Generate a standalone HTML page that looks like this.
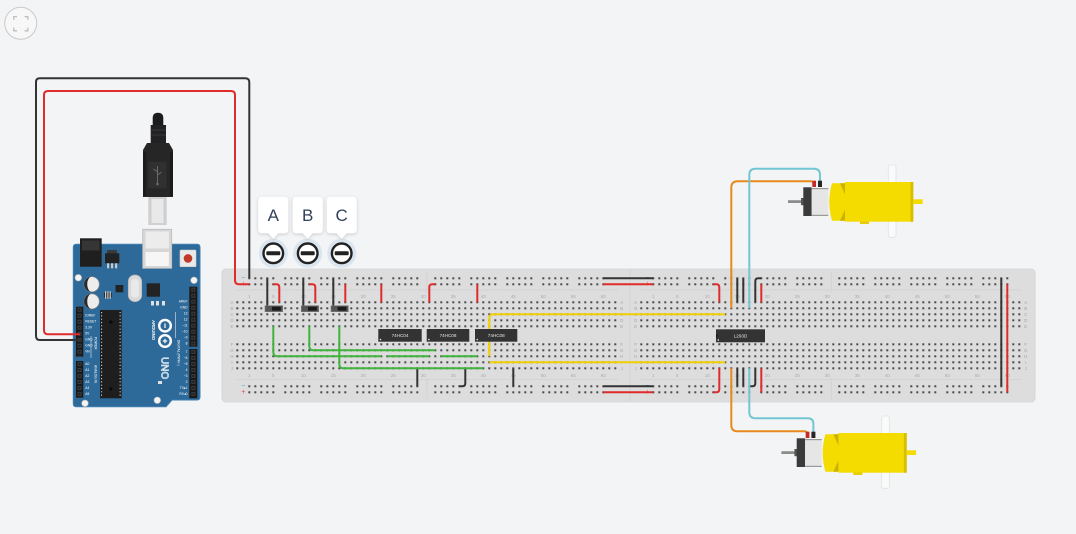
<!DOCTYPE html>
<html><head><meta charset="utf-8">
<style>
html,body{margin:0;padding:0;background:#f3f4f6;}
svg{display:block;}
text{font-family:"Liberation Sans",sans-serif;}
</style></head><body>
<svg width="1076" height="534" viewBox="0 0 1076 534" xmlns="http://www.w3.org/2000/svg">
<defs>
<pattern id="md" width="6" height="6" patternUnits="userSpaceOnUse"><rect x="2" y="2" width="2" height="2" fill="#4a4a4a"/></pattern>
<pattern id="rd" width="36" height="6" patternUnits="userSpaceOnUse">
<rect x="2" y="2" width="2" height="2" fill="#4a4a4a"/><rect x="8" y="2" width="2" height="2" fill="#4a4a4a"/><rect x="14" y="2" width="2" height="2" fill="#4a4a4a"/><rect x="20" y="2" width="2" height="2" fill="#4a4a4a"/><rect x="26" y="2" width="2" height="2" fill="#4a4a4a"/>
</pattern>
<pattern id="hp" width="6" height="6" patternUnits="userSpaceOnUse"><rect x="1" y="1" width="4" height="4" fill="#3a3a3a"/><rect x="2.2" y="2.2" width="1.6" height="1.6" fill="#111"/></pattern>
<filter id="sh" x="-30%" y="-30%" width="160%" height="160%"><feDropShadow dx="0" dy="1" stdDeviation="1.6" flood-color="#000" flood-opacity="0.18"/></filter>
</defs>

<!-- top-left icon -->
<circle cx="20.7" cy="23.3" r="16" fill="#f7f7f8" stroke="#c9c9c9" stroke-width="1"/>
<path d="M13.8,19.8 V16.6 H17 M24.6,16.6 H27.8 V19.8 M27.8,27.6 V30.8 H24.6 M17,30.8 H13.8 V27.6" fill="none" stroke="#bdbdbd" stroke-width="1.3"/>

<!-- ===== Breadboards ===== -->
<rect x="222" y="269" width="813" height="133" rx="4" fill="#dddddd" stroke="#d3d3d3" stroke-width="0.8"/>
<line x1="630" y1="270" x2="630" y2="401" stroke="#d2d2d2" stroke-width="0.8"/>
<!-- faint separators -->
<g stroke="#d0d0d0" stroke-width="0.7">
<line x1="236" y1="290" x2="618" y2="290"/><line x1="236" y1="379.5" x2="618" y2="379.5"/>
<line x1="640" y1="290" x2="1022" y2="290"/><line x1="640" y1="379.5" x2="1022" y2="379.5"/>
<line x1="427" y1="272" x2="427" y2="292"/><line x1="427" y1="378" x2="427" y2="399"/>
<line x1="831.3" y1="272" x2="831.3" y2="292"/><line x1="831.3" y1="378" x2="831.3" y2="399"/>
</g>
<!-- main dots -->
<g transform="translate(234.3,299.3)"><rect width="384" height="30" fill="url(#md)"/></g>
<g transform="translate(234.3,341.3)"><rect width="384" height="30" fill="url(#md)"/></g>
<g transform="translate(638.3,299.3)"><rect width="384" height="30" fill="url(#md)"/></g>
<g transform="translate(638.3,341.3)"><rect width="384" height="30" fill="url(#md)"/></g>
<!-- rail dots -->
<g transform="translate(246.3,275.3)"><rect width="180" height="12" fill="url(#rd)"/></g>
<g transform="translate(432.3,275.3)"><rect width="180" height="12" fill="url(#rd)"/></g>
<g transform="translate(246.3,383.3)"><rect width="180" height="12" fill="url(#rd)"/></g>
<g transform="translate(432.3,383.3)"><rect width="180" height="12" fill="url(#rd)"/></g>
<g transform="translate(650.3,275.3)"><rect width="180" height="12" fill="url(#rd)"/></g>
<g transform="translate(836.3,275.3)"><rect width="180" height="12" fill="url(#rd)"/></g>
<g transform="translate(650.3,383.3)"><rect width="180" height="12" fill="url(#rd)"/></g>
<g transform="translate(836.3,383.3)"><rect width="180" height="12" fill="url(#rd)"/></g>
<!-- rail signs -->
<g font-size="7" text-anchor="middle" dominant-baseline="central">
<text x="243.3" y="278" fill="#5b9bd5">−</text><text x="243.3" y="284.6" fill="#e34848">+</text>
<text x="243.3" y="386" fill="#5b9bd5">−</text><text x="243.3" y="392.6" fill="#e34848">+</text>
<text x="647.3" y="278" fill="#5b9bd5">−</text><text x="647.3" y="284.6" fill="#e34848">+</text>
<text x="647.3" y="386" fill="#5b9bd5">−</text><text x="647.3" y="392.6" fill="#e34848">+</text>
</g>
<!-- column numbers -->
<g font-size="4.6" fill="#ababab" text-anchor="middle">
<text x="249.3" y="298">1</text><text x="273.3" y="298">5</text><text x="303.3" y="298">10</text><text x="333.3" y="298">15</text><text x="363.3" y="298">20</text><text x="393.3" y="298">25</text><text x="423.3" y="298">30</text><text x="453.3" y="298">35</text><text x="483.3" y="298">40</text><text x="513.3" y="298">45</text><text x="543.3" y="298">50</text><text x="573.3" y="298">55</text><text x="603.3" y="298">60</text>
<text x="249.3" y="377">1</text><text x="273.3" y="377">5</text><text x="303.3" y="377">10</text><text x="333.3" y="377">15</text><text x="363.3" y="377">20</text><text x="393.3" y="377">25</text><text x="423.3" y="377">30</text><text x="453.3" y="377">35</text><text x="483.3" y="377">40</text><text x="513.3" y="377">45</text><text x="543.3" y="377">50</text><text x="573.3" y="377">55</text><text x="603.3" y="377">60</text>
<text x="653.3" y="298">1</text><text x="677.3" y="298">5</text><text x="707.3" y="298">10</text><text x="737.3" y="298">15</text><text x="767.3" y="298">20</text><text x="797.3" y="298">25</text><text x="827.3" y="298">30</text><text x="857.3" y="298">35</text><text x="887.3" y="298">40</text><text x="917.3" y="298">45</text><text x="947.3" y="298">50</text><text x="977.3" y="298">55</text><text x="1007.3" y="298">60</text>
<text x="653.3" y="377">1</text><text x="677.3" y="377">5</text><text x="707.3" y="377">10</text><text x="737.3" y="377">15</text><text x="767.3" y="377">20</text><text x="797.3" y="377">25</text><text x="827.3" y="377">30</text><text x="857.3" y="377">35</text><text x="887.3" y="377">40</text><text x="917.3" y="377">45</text><text x="947.3" y="377">50</text><text x="977.3" y="377">55</text><text x="1007.3" y="377">60</text>
</g>
<!-- row letters -->
<g font-size="4.4" fill="#a5a5a5" text-anchor="middle" dominant-baseline="central">
<text x="232" y="302.3">A</text><text x="232" y="308.3">B</text><text x="232" y="314.3">C</text><text x="232" y="320.3">D</text><text x="232" y="326.3">E</text><text x="232" y="344.3">F</text><text x="232" y="350.3">G</text><text x="232" y="356.3">H</text><text x="232" y="362.3">I</text><text x="232" y="368.3">J</text>
<text x="621.7" y="302.3">A</text><text x="621.7" y="308.3">B</text><text x="621.7" y="314.3">C</text><text x="621.7" y="320.3">D</text><text x="621.7" y="326.3">E</text><text x="621.7" y="344.3">F</text><text x="621.7" y="350.3">G</text><text x="621.7" y="356.3">H</text><text x="621.7" y="362.3">I</text><text x="621.7" y="368.3">J</text>
<text x="635.7" y="302.3">A</text><text x="635.7" y="308.3">B</text><text x="635.7" y="314.3">C</text><text x="635.7" y="320.3">D</text><text x="635.7" y="326.3">E</text><text x="635.7" y="344.3">F</text><text x="635.7" y="350.3">G</text><text x="635.7" y="356.3">H</text><text x="635.7" y="362.3">I</text><text x="635.7" y="368.3">J</text>
<text x="1025.7" y="302.3">A</text><text x="1025.7" y="308.3">B</text><text x="1025.7" y="314.3">C</text><text x="1025.7" y="320.3">D</text><text x="1025.7" y="326.3">E</text><text x="1025.7" y="344.3">F</text><text x="1025.7" y="350.3">G</text><text x="1025.7" y="356.3">H</text><text x="1025.7" y="362.3">I</text><text x="1025.7" y="368.3">J</text>
</g>

<!-- ===== Arduino ===== -->
<g>
<path d="M76.3,244.3 H197 Q200,244.3 200,247.3 V397 Q200,400 197,400 H172 L166,406.7 H76.3 Q73.3,406.7 73.3,403.7 V247.3 Q73.3,244.3 76.3,244.3Z" fill="#2e6a99" stroke="#3f7fb3" stroke-width="1"/>
<rect x="80" y="238.3" width="21.7" height="28.4" fill="#1f1f1f"/>
<rect x="82" y="240.5" width="17.5" height="10" fill="#353535"/>
<rect x="107" y="250" width="10" height="4" fill="#3a3a3a"/>
<rect x="105" y="253.3" width="14.3" height="10" fill="#222"/>
<rect x="107" y="263.3" width="2.2" height="5" fill="#c9c9c9"/><rect x="111" y="263.3" width="2.2" height="5" fill="#c9c9c9"/><rect x="115" y="263.3" width="2.2" height="5" fill="#c9c9c9"/>
<rect x="142.7" y="229.3" width="29" height="39" fill="#d6d6d6" stroke="#bdbdbd" stroke-width="0.8"/>
<rect x="145.5" y="231.5" width="23.4" height="17" fill="#ececec"/>
<rect x="145.5" y="252" width="23.4" height="14" fill="#f6f6f6"/>
<rect x="180" y="250" width="16" height="16.7" rx="1" fill="#e9e9e9" stroke="#cfcfcf" stroke-width="0.6"/>
<circle cx="188" cy="258.4" r="4.3" fill="#c0392b"/>
<g fill="#f4f4f4" stroke="#b8b8b8" stroke-width="0.6">
<circle cx="78.3" cy="277.7" r="3.3"/><circle cx="194" cy="280.3" r="3.3"/><circle cx="85" cy="403.3" r="3.3"/><circle cx="157.3" cy="400.3" r="3.3"/>
</g>
<!-- capacitors -->
<circle cx="91.7" cy="284.3" r="7.6" fill="#ededed" stroke="#8a8a8a" stroke-width="0.7"/>
<path d="M91.7,276.7 A7.6,7.6 0 0 0 91.7,291.9 A4.5,7.6 0 0 1 91.7,276.7Z" fill="#2a2a2a"/>
<circle cx="91.7" cy="301.4" r="7.6" fill="#ededed" stroke="#8a8a8a" stroke-width="0.7"/>
<path d="M91.7,293.8 A7.6,7.6 0 0 0 91.7,309 A4.5,7.6 0 0 1 91.7,293.8Z" fill="#2a2a2a"/>
<!-- crystal -->
<rect x="128.3" y="275" width="13.4" height="26.7" rx="6.5" fill="#d9d9d9" stroke="#b5b5b5" stroke-width="0.7"/>
<rect x="131" y="279" width="8" height="18.7" rx="4" fill="#e9e9e9"/>
<rect x="146.7" y="283.3" width="13.3" height="13.4" fill="#232323"/>
<rect x="115.5" y="285" width="7.8" height="7.3" fill="#232323"/>
<rect x="104" y="292.5" width="7.7" height="5" fill="#2a2a2a"/>
<rect x="105" y="291.3" width="1.2" height="7.4" fill="#ccc"/><rect x="107.3" y="291.3" width="1.2" height="7.4" fill="#ccc"/><rect x="109.6" y="291.3" width="1.2" height="7.4" fill="#ccc"/>
<!-- LEDs -->
<rect x="151" y="301" width="3" height="4.5" fill="#e0e0e0"/><rect x="156" y="301" width="3" height="4.5" fill="#e0e0e0"/><rect x="162" y="301" width="3" height="4.5" fill="#e0e0e0"/>
<rect x="158" y="381" width="4" height="3" fill="#e0e0e0"/>
<!-- ATmega -->
<rect x="100" y="310" width="21.7" height="88.3" fill="#1e1e1e"/>
<line x1="101.6" y1="312" x2="101.6" y2="397" stroke="#d8d8d8" stroke-width="1" stroke-dasharray="1.2 2.1"/>
<line x1="120.1" y1="312" x2="120.1" y2="397" stroke="#d8d8d8" stroke-width="1" stroke-dasharray="1.2 2.1"/>
<circle cx="110.8" cy="322" r="1.8" fill="#0c0c0c"/><circle cx="110.8" cy="389" r="1.8" fill="#0c0c0c"/>
<!-- headers -->
<g transform="translate(76,306.7)"><rect width="7.3" height="50" fill="#1a1a1a"/><g transform="translate(0.6,0)"><rect width="6" height="50" fill="url(#hp)"/></g></g>
<g transform="translate(76,361)"><rect width="7.3" height="36.7" fill="#1a1a1a"/><g transform="translate(0.6,0)"><rect width="6" height="36" fill="url(#hp)"/></g></g>
<g transform="translate(189.3,286.7)"><rect width="8" height="60" fill="#1a1a1a"/><g transform="translate(1,0)"><rect width="6" height="60" fill="url(#hp)"/></g></g>
<g transform="translate(189.3,349)"><rect width="8" height="49.3" fill="#1a1a1a"/><g transform="translate(1,0)"><rect width="6" height="48" fill="url(#hp)"/></g></g>
<!-- labels -->
<g font-size="3.3" fill="#ffffff" dominant-baseline="central">
<g text-anchor="end">
<text x="187.5" y="301.7">AREF</text><text x="187.5" y="307.7">GND</text><text x="187.5" y="313.7">13</text><text x="187.5" y="319.7">12</text><text x="187.5" y="325.7">~11</text><text x="187.5" y="331.7">~10</text><text x="187.5" y="337.7">~9</text><text x="187.5" y="343.7">8</text>
<text x="187.5" y="352">7</text><text x="187.5" y="358">~6</text><text x="187.5" y="364">~5</text><text x="187.5" y="370">4</text><text x="187.5" y="376">~3</text><text x="187.5" y="382">2</text><text x="187.5" y="388">TX▸1</text><text x="187.5" y="394">RX◂0</text>
</g>
<text x="85.3" y="315.7">IOREF</text><text x="85.3" y="321.7">RESET</text><text x="85.3" y="327.7">3.3V</text><text x="85.3" y="333.7">5V</text><text x="85.3" y="339.7">GND</text><text x="85.3" y="345.7">GND</text><text x="85.3" y="351.7">Vin</text>
<text x="85.3" y="364">A0</text><text x="85.3" y="370">A1</text><text x="85.3" y="376">A2</text><text x="85.3" y="382">A3</text><text x="85.3" y="388">A4</text><text x="85.3" y="394">A5</text>
<text transform="translate(95.5,337) rotate(90)">POWER</text>
<text transform="translate(95.5,365) rotate(90)">ANALOG IN</text>
<text transform="translate(178.5,340) rotate(90)">DIGITAL (PWM~)</text>
<text transform="translate(153.3,320) rotate(90)" font-size="4.3" font-weight="bold">ARDUINO</text>
</g>
<line x1="175.5" y1="312" x2="175.5" y2="338" stroke="#fff" stroke-width="0.5"/>
<line x1="91" y1="336" x2="91" y2="358" stroke="#fff" stroke-width="0.5"/>
<circle cx="165" cy="325.7" r="5.8" fill="none" stroke="#fff" stroke-width="2.4"/>
<circle cx="165" cy="341" r="5.8" fill="none" stroke="#fff" stroke-width="2.4"/>
<line x1="165" y1="323.5" x2="165" y2="328" stroke="#fff" stroke-width="1.2"/>
<line x1="162.8" y1="341" x2="167.2" y2="341" stroke="#fff" stroke-width="1.2"/><line x1="165" y1="338.8" x2="165" y2="343.2" stroke="#fff" stroke-width="1.2"/>
<text transform="translate(161.5,357) rotate(90)" font-size="10" fill="none" stroke="#fff" stroke-width="0.6">UNO</text>
</g>

<!-- USB cable -->
<path d="M152.7,126 V118 Q152.7,112.7 158,112.7 Q163.3,112.7 163.3,118 V126 Z" fill="#1c1c1c"/>
<rect x="150.7" y="125" width="15.3" height="18.3" fill="#222"/>
<line x1="150.7" y1="130" x2="166" y2="130" stroke="#383838" stroke-width="1"/>
<line x1="150.7" y1="135" x2="166" y2="135" stroke="#383838" stroke-width="1"/>
<path d="M147,143 H169 L173,150 V197 H143 V150 Z" fill="#262626"/>
<rect x="143" y="152" width="3" height="44" fill="#1b1b1b"/><rect x="170" y="152" width="3" height="44" fill="#1b1b1b"/>
<rect x="148.3" y="161.7" width="18.4" height="26.6" fill="#303030"/>
<path d="M157.5,166 V183 M157.5,172 L153.5,169 M157.5,175 L161.5,172" stroke="#6a6a6a" stroke-width="1" fill="none"/>
<circle cx="157.5" cy="184" r="1.3" fill="#6a6a6a"/>
<rect x="148.3" y="197" width="18.4" height="28" fill="#cfcfcf"/>
<rect x="151.5" y="199" width="12" height="24" fill="#e9e9e9"/>

<!-- ===== Wires ===== -->
<g fill="none" stroke-width="2" stroke-linecap="butt" stroke-linejoin="round">
<!-- arduino power -->
<path d="M80,340 H40 Q36,340 36,336 V82 Q36,78.3 40,78.3 H245.3 Q249.3,78.3 249.3,82.3 V278.3" stroke="#333"/>
<path d="M80,334.3 H48 Q44,334.3 44,330.3 V95 Q44,91 48,91 H231 Q235,91 235,95 V280.3 Q235,284.3 239,284.3 H249.3" stroke="#e02b2b"/>
<!-- switch wires -->
<path d="M267.3,278.3 V306" stroke="#333"/>
<path d="M273.3,284.3 H276.3 Q279.3,284.3 279.3,287.3 V302.3" stroke="#e02b2b"/>
<path d="M303.3,278.3 V306" stroke="#333"/>
<path d="M309.3,284.3 H312.3 Q315.3,284.3 315.3,287.3 V302.3" stroke="#e02b2b"/>
<path d="M333.3,278.3 V306" stroke="#333"/>
<path d="M345.3,284.3 V302.3" stroke="#e02b2b"/>
<!-- board1 top reds -->
<path d="M381.3,284.3 V302.3" stroke="#e02b2b"/>
<path d="M435.3,284.3 H432.3 Q429.3,284.3 429.3,287.3 V302.3" stroke="#e02b2b"/>
<path d="M477.3,284.3 V302.3" stroke="#e02b2b"/>
<!-- board1 bottom blacks -->
<path d="M417.3,368.3 V386.3" stroke="#333"/>
<path d="M465.3,368.3 V383.3 Q465.3,386.3 462.3,386.3 H459.3" stroke="#333"/>
<path d="M513.3,368.3 V386.3" stroke="#333"/>
<!-- greens -->
<path d="M273.3,326.3 V352.3 Q273.3,356.3 277.3,356.3 H381.3" stroke="#3fb43c"/>
<path d="M309.3,326.3 V346.3 Q309.3,350.3 313.3,350.3 H435.3" stroke="#3fb43c"/>
<path d="M339.3,326.3 V364.3 Q339.3,368.3 343.3,368.3 H483.3" stroke="#3fb43c"/>
<path d="M387.3,356.3 H429.3" stroke="#3fb43c"/>
<path d="M441.3,356.3 H477.3" stroke="#3fb43c"/>
<!-- yellows -->
<path d="M489.3,356.3 V318.3 Q489.3,314.3 493.3,314.3 H725.3" stroke="#f2cf00"/>
<path d="M489.3,362.3 H725.3" stroke="#f2cf00"/>
<!-- bridges -->
<path d="M603.3,278.3 H653.3" stroke="#333"/>
<path d="M603.3,284.3 H653.3" stroke="#e02b2b"/>
<path d="M603.3,386.3 H653.3" stroke="#333"/>
<path d="M603.3,392.3 H653.3" stroke="#e02b2b"/>
<!-- board2 -->
<path d="M713.3,284.3 H716.3 Q719.3,284.3 719.3,287.3 V302.3" stroke="#e02b2b"/>
<path d="M737.3,278.3 V302.3" stroke="#333"/>
<path d="M743.3,278.3 V302.3" stroke="#333"/>
<path d="M761.3,278.3 H758.3 Q755.3,278.3 755.3,281.3 V302.3" stroke="#333"/>
<path d="M761.3,284.3 V302.3" stroke="#e02b2b"/>
<path d="M719.3,368.3 V389.3 Q719.3,392.3 716.3,392.3 H713.3" stroke="#e02b2b"/>
<path d="M737.3,368.3 V386.3" stroke="#333"/>
<path d="M743.3,368.3 V386.3" stroke="#333"/>
<path d="M755.3,368.3 V383.3 Q755.3,386.3 752.3,386.3 H749.3" stroke="#333"/>
<path d="M761.3,368.3 V392.3" stroke="#e02b2b"/>
<path d="M1001.3,278.3 V386.3" stroke="#333"/>
<path d="M1007.3,284.3 V392.3" stroke="#e02b2b"/>
<!-- motor wires -->
<path d="M731.3,308.3 V187.7 Q731.3,181.3 737.7,181.3 H810.5 Q814.2,181.3 814.2,185" stroke="#e8891c"/>
<path d="M749.3,308.3 V174.7 Q749.3,168.7 755.3,168.7 H814 Q820,168.7 820,174.7 V182" stroke="#72c6d3"/>
<path d="M731.3,368.3 V425 Q731.3,431.3 737.6,431.3 H804 Q807.6,431.3 807.6,435" stroke="#e8891c"/>
<path d="M749.3,368.3 V412 Q749.3,418.3 755.6,418.3 H807.5 Q813.4,418.3 813.4,424 V433" stroke="#72c6d3"/>
</g>

<!-- slide switches -->
<g>
<rect x="265" y="305.7" width="17.7" height="6" fill="#555" stroke="#7c7c7c" stroke-width="0.6"/>
<rect x="272" y="306.8" width="8.8" height="3.8" fill="#1a1a1a"/>
<rect x="301.3" y="305.7" width="17.4" height="6" fill="#555" stroke="#7c7c7c" stroke-width="0.6"/>
<rect x="308" y="306.8" width="8.8" height="3.8" fill="#1a1a1a"/>
<rect x="331" y="305.7" width="17.3" height="6" fill="#555" stroke="#7c7c7c" stroke-width="0.6"/>
<rect x="337.6" y="306.8" width="8.8" height="3.8" fill="#1a1a1a"/>
</g>

<!-- ICs -->
<g>
<rect x="378.3" y="329" width="43.4" height="12.7" fill="#333"/>
<rect x="426.7" y="329" width="42.6" height="12.7" fill="#333"/>
<rect x="475" y="329" width="42.3" height="12.7" fill="#333"/>
<rect x="716" y="329.3" width="49" height="13" fill="#333"/>
<circle cx="380.5" cy="339.5" r="0.8" fill="#eee"/><circle cx="428.9" cy="339.5" r="0.8" fill="#eee"/><circle cx="477.2" cy="339.5" r="0.8" fill="#eee"/><circle cx="718.3" cy="340" r="0.8" fill="#eee"/>
<path d="M716,334 A1.8,1.8 0 0 1 716,337.6Z" fill="#1a1a1a"/>
<g font-size="4.6" fill="#e8e8e8" text-anchor="middle" dominant-baseline="central">
<text x="400" y="335.4">74HC04</text>
<text x="448" y="335.4">74HC08</text>
<text x="496.2" y="335.4">74HC08</text>
<text x="740.5" y="335.8">L293D</text>
</g>
</g>

<!-- ===== Motors ===== -->
<g id="m1">
<rect x="888.3" y="165" width="7.7" height="72.3" rx="2" fill="#fafafa" stroke="#e2e2e2" stroke-width="0.8"/>
<rect x="788" y="200.2" width="17" height="2.8" fill="#8d8d8d"/>
<rect x="801" y="198" width="3" height="7.2" fill="#555"/>
<rect x="803.3" y="187.3" width="8.4" height="28.7" fill="#3b3b3b"/>
<rect x="811.7" y="188" width="16.6" height="28" fill="#e6e6e6"/>
<rect x="811.7" y="188" width="16.6" height="1.2" fill="#9a9a9a"/>
<rect x="811.7" y="214.8" width="16.6" height="1.2" fill="#9a9a9a"/>
<rect x="812.3" y="180.7" width="3.7" height="6.3" fill="#c62828"/>
<rect x="818" y="180.7" width="4" height="6.3" fill="#262626"/>
<path d="M832,183.3 H845.7 V220.7 H832 Q826.6,202 832,183.3 Z" fill="#f4db00"/>
<path d="M840,183.3 H845.7 V196 Z" fill="#c9b300"/>
<path d="M840,220.7 H845.7 V208 Z" fill="#c9b300"/>
<rect x="845" y="182" width="68.3" height="39.7" fill="#f4db00"/>
<rect x="910.5" y="182" width="2.8" height="39.7" fill="#d6bf00"/>
<rect x="913.3" y="199.3" width="9.4" height="4.7" fill="#f4db00"/>
<rect x="860" y="221.5" width="9" height="2.5" fill="#e6cc00"/>
</g>
<g transform="translate(-6.6,251)">
<rect x="888.3" y="165" width="7.7" height="72.3" rx="2" fill="#fafafa" stroke="#e2e2e2" stroke-width="0.8"/>
<rect x="788" y="200.2" width="17" height="2.8" fill="#8d8d8d"/>
<rect x="801" y="198" width="3" height="7.2" fill="#555"/>
<rect x="803.3" y="187.3" width="8.4" height="28.7" fill="#3b3b3b"/>
<rect x="811.7" y="188" width="16.6" height="28" fill="#e6e6e6"/>
<rect x="811.7" y="188" width="16.6" height="1.2" fill="#9a9a9a"/>
<rect x="811.7" y="214.8" width="16.6" height="1.2" fill="#9a9a9a"/>
<rect x="812.3" y="180.7" width="3.7" height="6.3" fill="#c62828"/>
<rect x="818" y="180.7" width="4" height="6.3" fill="#262626"/>
<path d="M832,183.3 H845.7 V220.7 H832 Q826.6,202 832,183.3 Z" fill="#f4db00"/>
<path d="M840,183.3 H845.7 V196 Z" fill="#c9b300"/>
<path d="M840,220.7 H845.7 V208 Z" fill="#c9b300"/>
<rect x="845" y="182" width="68.3" height="39.7" fill="#f4db00"/>
<rect x="910.5" y="182" width="2.8" height="39.7" fill="#d6bf00"/>
<rect x="913.3" y="199.3" width="9.4" height="4.7" fill="#f4db00"/>
<rect x="860" y="221.5" width="9" height="2.5" fill="#e6cc00"/>
</g>

<!-- ===== Switch labels / buttons ===== -->
<g>
<circle cx="273.3" cy="253.3" r="14.5" fill="#dae5ef"/>
<circle cx="307.7" cy="253.3" r="14.5" fill="#dae5ef"/>
<circle cx="341.7" cy="253.3" r="14.5" fill="#dae5ef"/>
<g filter="url(#sh)" fill="#ffffff">
<path d="M262.3,196.7 H284.3 Q288.3,196.7 288.3,200.7 V229.3 Q288.3,233.3 284.3,233.3 H278.3 L273.3,238.8 L268.3,233.3 H262.3 Q258.3,233.3 258.3,229.3 V200.7 Q258.3,196.7 262.3,196.7 Z"/>
<path transform="translate(34.4,0)" d="M262.3,196.7 H284.3 Q288.3,196.7 288.3,200.7 V229.3 Q288.3,233.3 284.3,233.3 H278.3 L273.3,238.8 L268.3,233.3 H262.3 Q258.3,233.3 258.3,229.3 V200.7 Q258.3,196.7 262.3,196.7 Z"/>
<path transform="translate(68.4,0)" d="M262.3,196.7 H284.3 Q288.3,196.7 288.3,200.7 V229.3 Q288.3,233.3 284.3,233.3 H278.3 L273.3,238.8 L268.3,233.3 H262.3 Q258.3,233.3 258.3,229.3 V200.7 Q258.3,196.7 262.3,196.7 Z"/>
</g>
<g font-size="17" fill="#33405a" text-anchor="middle">
<text x="273.3" y="221">A</text>
<text x="307.7" y="221">B</text>
<text x="341.7" y="221">C</text>
</g>
<g fill="#ffffff" stroke="#222" stroke-width="2.4">
<circle cx="273.3" cy="253.3" r="9.8"/>
<circle cx="307.7" cy="253.3" r="9.8"/>
<circle cx="341.7" cy="253.3" r="9.8"/>
</g>
<g fill="#222">
<rect x="266.3" y="251.3" width="14" height="4" rx="1"/>
<rect x="300.7" y="251.3" width="14" height="4" rx="1"/>
<rect x="334.7" y="251.3" width="14" height="4" rx="1"/>
</g>
</g>
</svg>
</body></html>
